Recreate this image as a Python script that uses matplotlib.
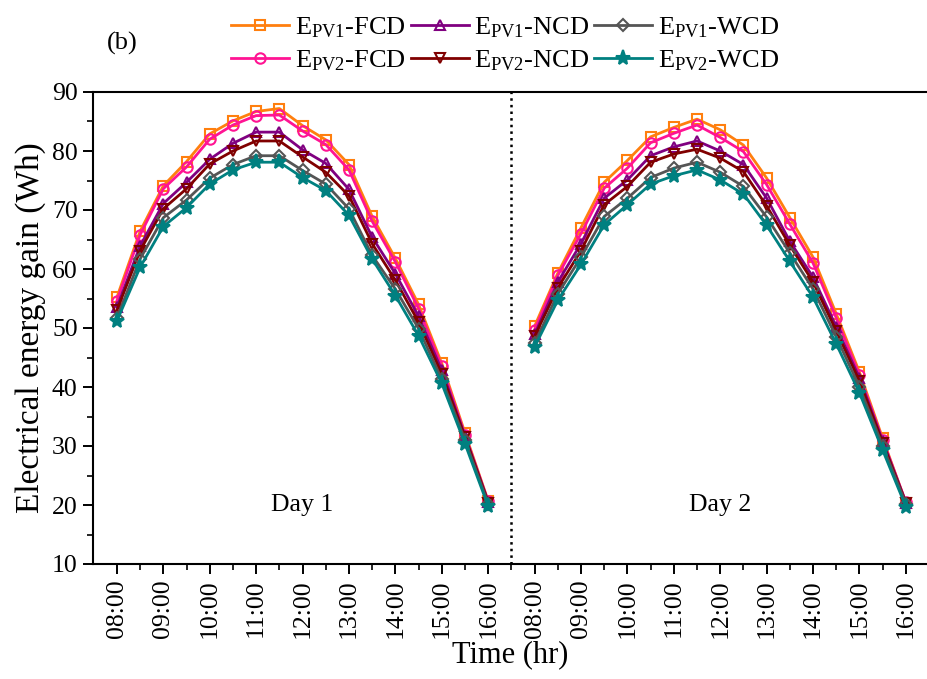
import numpy as np
import matplotlib.pyplot as plt

plt.rcParams['font.family'] = 'Liberation Serif'
plt.rcParams['mathtext.fontset'] = 'custom'
plt.rcParams['mathtext.rm'] = 'Liberation Serif'
plt.rcParams['mathtext.it'] = 'Liberation Serif:italic'

# time labels (hourly major ticks, data every half hour)
hours = ["08:00", "09:00", "10:00", "11:00", "12:00", "13:00", "14:00", "15:00", "16:00"]
day_labels = ["Day 1", "Day 2"]

# PV1 - first/normal/worst case dust, day 1 and day 2
pv1_fcd_d1 = [55.2, 66.4, 74.1, 78.2, 82.9, 85.1, 86.7, 87.2, 84.3, 81.9, 77.7, 68.9, 61.8, 54.0, 44.0, 32.2, 20.7]
pv1_fcd_d2 = [50.3, 59.3, 67.0, 74.7, 78.4, 82.4, 84.0, 85.4, 83.6, 81.0, 75.4, 68.7, 62.0, 52.4, 42.5, 31.3, 20.4]
pv1_ncd_d1 = [53.5, 63.9, 71.1, 74.7, 78.6, 81.3, 83.2, 83.2, 80.2, 77.9, 73.5, 65.4, 59.2, 52.0, 42.8, 31.7, 20.5]
pv1_ncd_d2 = [48.9, 57.8, 64.3, 72.0, 75.1, 79.2, 80.7, 81.7, 80.0, 77.7, 72.0, 64.7, 58.6, 50.2, 41.5, 30.8, 20.4]
pv1_wcd_d1 = [51.7, 61.7, 68.7, 71.7, 75.4, 77.7, 79.2, 79.2, 76.7, 74.4, 70.2, 62.3, 56.6, 49.9, 41.3, 31.0, 20.2]
pv1_wcd_d2 = [47.4, 55.8, 62.0, 68.9, 72.0, 75.5, 77.1, 78.1, 76.4, 74.0, 68.8, 62.7, 56.6, 48.5, 40.0, 30.0, 20.2]

# PV2
pv2_fcd_d1 = [54.6, 65.8, 73.6, 77.3, 82.0, 84.4, 86.0, 86.1, 83.4, 81.1, 76.8, 68.1, 61.2, 53.3, 43.5, 31.9, 20.6]
pv2_fcd_d2 = [49.7, 58.9, 66.0, 73.7, 77.1, 81.4, 83.0, 84.4, 82.3, 79.9, 74.3, 67.6, 61.0, 51.7, 42.0, 31.0, 20.5]
pv2_ncd_d1 = [53.0, 63.1, 70.2, 73.6, 77.8, 80.0, 81.7, 81.7, 79.0, 76.4, 72.4, 64.3, 58.1, 51.0, 42.2, 31.5, 20.4]
pv2_ncd_d2 = [48.6, 56.8, 63.1, 70.9, 74.0, 78.1, 79.5, 80.3, 78.8, 76.5, 70.7, 64.0, 57.8, 49.5, 41.0, 30.5, 20.3]
pv2_wcd_d1 = [51.2, 60.3, 67.2, 70.4, 74.4, 76.8, 78.1, 78.1, 75.5, 73.3, 69.1, 61.7, 55.5, 48.7, 40.6, 30.4, 19.8]
pv2_wcd_d2 = [46.8, 54.7, 60.8, 67.5, 70.9, 74.4, 75.8, 76.8, 75.1, 72.7, 67.4, 61.3, 55.2, 47.3, 39.0, 29.3, 19.7]

# legend order is column-first (ncol=3)
series = [
    ("E$_{\\mathrm{PV1}}$-FCD", '#ff7f0e', 's', False, pv1_fcd_d1, pv1_fcd_d2),
    ("E$_{\\mathrm{PV2}}$-FCD", '#ff1493', 'o', False, pv2_fcd_d1, pv2_fcd_d2),
    ("E$_{\\mathrm{PV1}}$-NCD", '#800080', '^', False, pv1_ncd_d1, pv1_ncd_d2),
    ("E$_{\\mathrm{PV2}}$-NCD", '#800000', 'v', False, pv2_ncd_d1, pv2_ncd_d2),
    ("E$_{\\mathrm{PV1}}$-WCD", '#555555', 'D', False, pv1_wcd_d1, pv1_wcd_d2),
    ("E$_{\\mathrm{PV2}}$-WCD", '#008080', '*', True, pv2_wcd_d1, pv2_wcd_d2),
]

fig = plt.figure(figsize=(9.27, 6.79), dpi=100)
ax = fig.add_axes([93 / 927, 1 - 564 / 679, 834 / 927, 472 / 679])

n = len(pv1_fcd_d1)
x1 = np.arange(n)
x2 = x1 + n + 1

handles = []
for label, color, marker, filled, d1, d2 in series:
    ms = 11 if marker == '*' else 7.5
    if marker == 'D':
        ms = 6.5
    face = color if filled else 'none'
    for xs, ys in [(x1, d1), (x2, d2)]:
        h, = ax.plot(xs, ys, color=color, lw=2.0, marker=marker, ms=ms,
                     mfc=face, mec=color, mew=1.5)
    handles.append(h)

ax.axvline(n, color='k', ls=':', lw=1.8)

ax.set_xlim(-1.03, 34.91)
ax.set_ylim(10, 90)
ax.set_xticks(list(x1[::2]) + list(x2[::2]))
ax.set_xticklabels(hours + hours, rotation=90)
ax.set_xticks(np.arange(0, 2 * n + 1), minor=True)
ax.set_yticks(np.arange(10, 91, 10))
ax.set_yticks(np.arange(15, 90, 10), minor=True)
ax.tick_params(which='major', direction='out', length=7, width=1.4, labelsize=18.5, pad=4)
ax.tick_params(which='minor', direction='out', length=4, width=1.2)
for s in ['left', 'bottom', 'top']:
    ax.spines[s].set_linewidth(1.5)
ax.spines['right'].set_visible(False)

ax.text(x1[8], 20, day_labels[0], ha='center', va='center', fontsize=18.5)
ax.text(x2[8], 20, day_labels[1], ha='center', va='center', fontsize=18.5)

ax.set_xlabel("Time (hr)", fontsize=22, labelpad=2)
ax.set_ylabel("Electrical energy gain (Wh)", fontsize=24, labelpad=4)

fig.text(122 / 927, 1 - 43 / 679, "(b)", fontsize=19, ha='center', va='center')
fig.legend(handles, [s[0] for s in series], ncol=3, loc='center',
           bbox_to_anchor=(505 / 927, 1 - 44 / 679), frameon=False, fontsize=19,
           handlelength=2.2, handletextpad=0.2, columnspacing=0.2,
           labelspacing=0.3, borderpad=0)

fig.savefig("out.png", dpi=100)
